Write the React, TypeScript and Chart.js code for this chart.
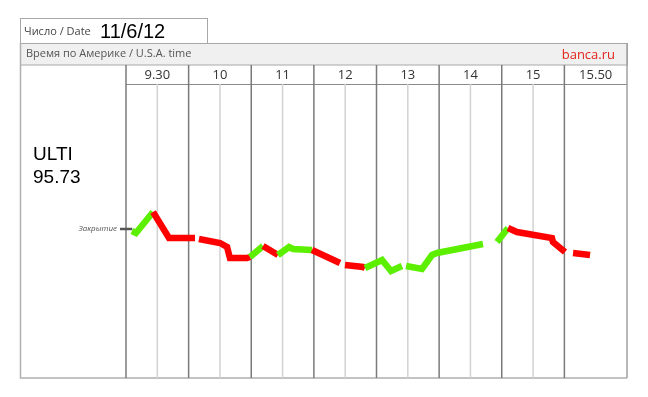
import React, { useEffect, useRef } from "react";
import { Chart, registerables } from "chart.js";

Chart.register(...registerables);

// Session columns (x in minutes from session start, each column = 60)
const columnLabels = ["9.30", "10", "11", "12", "13", "14", "15", "15.50"];
const ticker = "ULTI";
const prevClose = 95.73;
const dateText = "11/6/12";

// Price path (null = gap in the line)
const times: number[] = [
  5.7, 9.6, 25.9, 41.2, 66.1, 68, 69.9, 90.1, 96.8, 99.6, 115.9, 118.8, 131.3,
  145.6, 156.2, 160.0, 178.2, 205.0, 207, 209.8, 227.1, 229.0, 245.3, 253.9,
  264.4, 266, 268.3, 283.6, 293.2, 298.0, 342.0, 350, 355.5, 366.0, 374.6,
  408.1, 409.0, 420.6, 424, 428.3, 444.6,
];
const prices: (number | null)[] = [
  95.71, 95.69, 95.9, 95.64, 95.64, null, 95.63, 95.59, 95.55, 95.44, 95.44,
  95.45, 95.56, 95.47, 95.55, 95.53, 95.52, 95.39, null, 95.37, 95.35, 95.34,
  95.42, 95.31, 95.36, null, 95.36, 95.33, 95.47, 95.49, 95.58, null, 95.6,
  95.74, 95.7, 95.64, 95.6, 95.5, null, 95.49, 95.47,
];
// Colour of the segment that starts at each point: 1 = up (green), 0 = down (red)
const trend: number[] = [
  1, 1, 0, 0, 0, 0, 0, 0, 0, 0, 0, 1, 0, 1, 1, 1, 0, 0, 0, 0, 0, 1, 1, 1, 1,
  1, 1, 1, 1, 1, 1, 1, 1, 0, 0, 0, 0, 0, 0, 0, 0,
];

const GREEN = "#5cf000";
const RED = "#ff0000";

export default function App() {
  const ref = useRef<HTMLCanvasElement | null>(null);

  useEffect(() => {
    const canvas = ref.current;
    if (!canvas) return;

    const framePlugin = {
      id: "frame",
      beforeDraw(chart: any) {
        const ctx = chart.ctx;
        ctx.save();
        ctx.fillStyle = "#ffffff";
        ctx.fillRect(0, 0, chart.width, chart.height);
        ctx.restore();
      },
      beforeDatasetsDraw(chart: any) {
        const ctx = chart.ctx;
        const xs = chart.scales.x;
        const ys = chart.scales.y;
        const area = chart.chartArea;
        const L = 20;
        const R = xs.getPixelForValue(480);
        ctx.save();
        // date box
        ctx.strokeStyle = "#a8a8a8";
        ctx.lineWidth = 1;
        ctx.strokeRect(20.5, 18.5, 187, 25);
        // header bar
        ctx.fillStyle = "#f0f0f0";
        ctx.fillRect(L, 43, R - L, 22);
        ctx.strokeRect(20.5, 43.5, R - L, 21.5);
        // left & bottom border
        ctx.strokeStyle = "#b0b0b0";
        ctx.lineWidth = 1.5;
        ctx.beginPath();
        ctx.moveTo(20.5, 43);
        ctx.lineTo(20.5, area.bottom);
        ctx.lineTo(R, area.bottom);
        ctx.stroke();
        // header row bottom line
        ctx.strokeStyle = "#8a8a8a";
        ctx.lineWidth = 1;
        ctx.beginPath();
        ctx.moveTo(area.left, area.top + 0.5);
        ctx.lineTo(R, area.top + 0.5);
        ctx.stroke();
        // half-hour sub lines
        ctx.strokeStyle = "#d2d2d2";
        ctx.lineWidth = 1.5;
        for (let i = 0; i < columnLabels.length - 1; i++) {
          const px = xs.getPixelForValue(i * 60 + 30);
          ctx.beginPath();
          ctx.moveTo(px, area.top);
          ctx.lineTo(px, area.bottom);
          ctx.stroke();
        }
        // hour column lines
        ctx.strokeStyle = "#7a7a7a";
        ctx.lineWidth = 1.5;
        for (let i = 0; i < columnLabels.length; i++) {
          const px = xs.getPixelForValue(i * 60);
          ctx.beginPath();
          ctx.moveTo(px, 65);
          ctx.lineTo(px, area.bottom);
          ctx.stroke();
        }
        ctx.strokeStyle = "#a0a0a0";
        ctx.beginPath();
        ctx.moveTo(R, 43);
        ctx.lineTo(R, area.bottom);
        ctx.stroke();

        // texts
        ctx.textBaseline = "alphabetic";
        ctx.fillStyle = "#444";
        ctx.font = "11px 'Open Sans'";
        ctx.textAlign = "left";
        ctx.fillText("Число / Date", 24, 35);
        ctx.fillStyle = "#000";
        ctx.font = "20px 'Liberation Sans'";
        ctx.fillText(dateText, 100, 38);
        ctx.fillStyle = "#555";
        ctx.font = "11px 'Open Sans'";
        ctx.textBaseline = "middle";
        ctx.fillText("Время по Америке / U.S.A. time", 26, 54);
        ctx.fillStyle = "#e2231a";
        ctx.font = "13px 'Open Sans'";
        ctx.textAlign = "right";
        ctx.fillText("banca.ru", 615, 55);
        ctx.fillStyle = "#000";
        ctx.font = "19px 'Liberation Sans'";
        ctx.textAlign = "left";
        ctx.textBaseline = "alphabetic";
        ctx.fillText(ticker, 33, 160);
        ctx.fillText(prevClose.toFixed(2), 33, 183);

        // close marker
        const cy = ys.getPixelForValue(prevClose);
        ctx.strokeStyle = "#555";
        ctx.lineWidth = 2.5;
        ctx.beginPath();
        ctx.moveTo(120, cy);
        ctx.lineTo(xs.getPixelForValue(6), cy);
        ctx.stroke();
        ctx.restore();
      },
    };

    const data = times.map((t, i) => ({ x: t, y: prices[i] }));

    const chart = new Chart(canvas, {
      type: "line",
      data: {
        datasets: [
          {
            data: data as any,
            borderWidth: 6.5,
            pointRadius: 0,
            spanGaps: false,
            borderCapStyle: "butt",
            borderJoinStyle: "miter",
            tension: 0,
            segment: {
              borderColor: (c: any) => (trend[c.p0DataIndex] ? GREEN : RED),
            },
          } as any,
        ],
      },
      options: {
        animation: false,
        responsive: false,
        events: [],
        layout: { padding: { left: 20, right: 21, top: 0, bottom: 19 } },
        plugins: { legend: { display: false }, tooltip: { enabled: false } },
        scales: {
          x: {
            type: "linear",
            position: "top",
            min: 0,
            max: 480,
            grid: { display: false, drawTicks: false },
            border: { display: false },
            afterBuildTicks: (s: any) => {
              s.ticks = columnLabels.map((_, i) => ({ value: i * 60 + 30 }));
            },
            afterFit: (s: any) => {
              s.height = 84;
            },
            ticks: {
              autoSkip: false,
              maxRotation: 0,
              padding: 1,
              color: "#333",
              font: { family: "'Open Sans'", size: 13 },
              callback: (_v: any, i: number) => columnLabels[i],
            },
          },
          y: {
            type: "linear",
            position: "left",
            min: prevClose - 1.49,
            max: prevClose + 1.45,
            grid: { display: false, drawTicks: false },
            border: { display: false },
            afterBuildTicks: (s: any) => {
              s.ticks = [{ value: prevClose }];
            },
            afterFit: (s: any) => {
              s.width = 106;
            },
            ticks: {
              padding: 9,
              color: "#555",
              font: { family: "'Open Sans'", size: 8, style: "italic" },
              callback: () => "Закрытие",
            },
          },
        },
      },
      plugins: [framePlugin],
    });

    return () => chart.destroy();
  }, []);

  return (
    <div style={{ position: "fixed", left: 0, top: 0, width: 648, height: 397 }}>
      <canvas ref={ref} width={648} height={397} style={{ width: 648, height: 397 }} />
    </div>
  );
}
